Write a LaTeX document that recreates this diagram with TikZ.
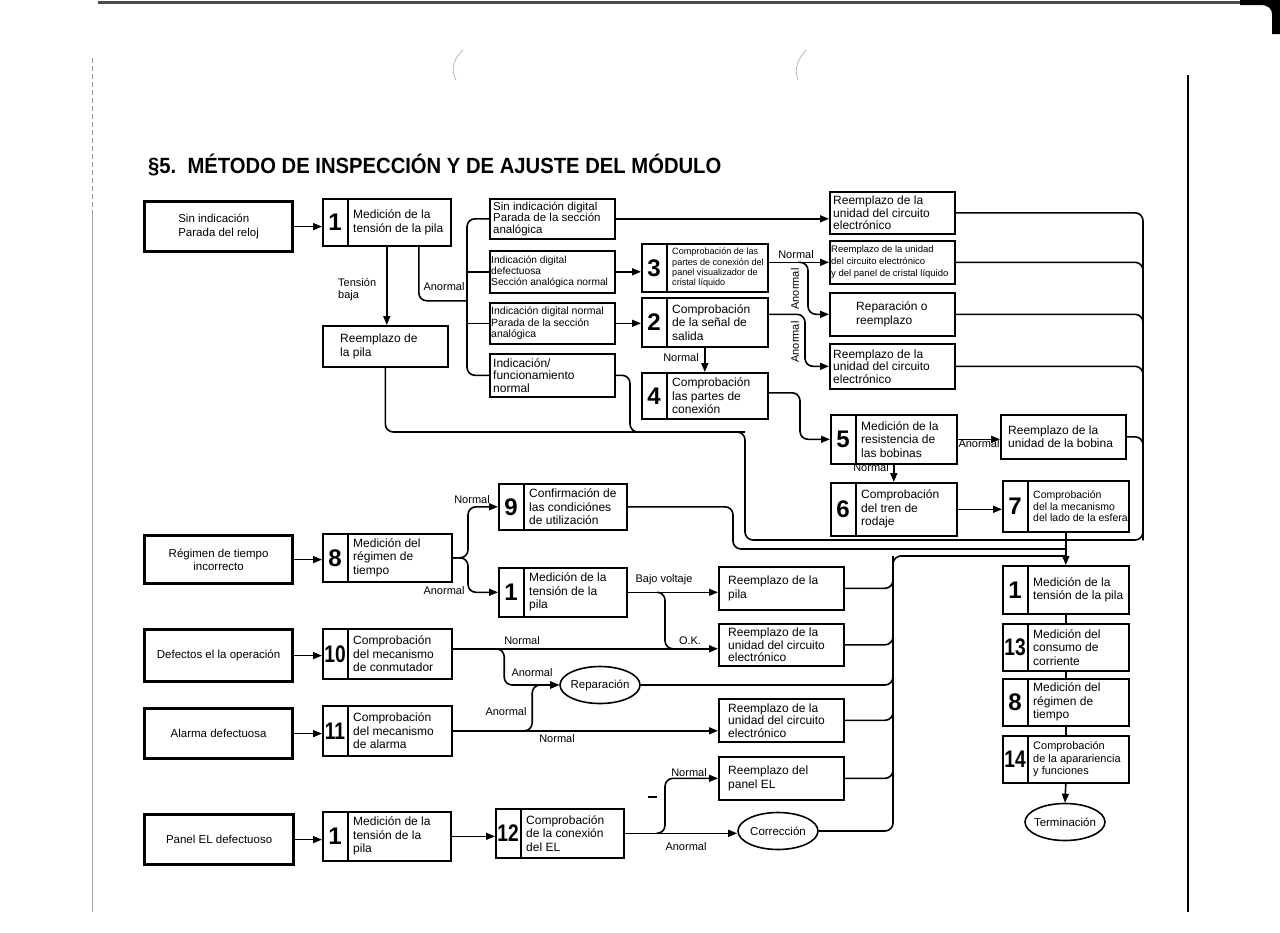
\documentclass[tikz,border=0pt]{standalone}
\usepackage{fontspec}
\setmainfont{Liberation Sans}
\usetikzlibrary{arrows.meta,shapes.geometric}
\newcommand\twod[1]{\scalebox{0.8}[1]{#1}}
\tikzset{
 ln/.style={line width=1.6pt},
 arr/.style={line width=1.6pt,-{Triangle[length=9pt,width=7pt]}},
 rc/.style={rounded corners=8pt},
 bx/.style={draw,line width=1.6pt,inner sep=0pt,anchor=north west},
 inbx/.style={draw,line width=3.2pt,inner sep=0pt,anchor=north west,font=\fontsize{11.5}{13.5}\selectfont},
 txt/.style={inner sep=0pt,align=left,anchor=west},
 numf/.style={inner sep=0pt,font=\fontsize{24}{24}\selectfont\bfseries},
 lbl/.style={inner sep=0pt,font=\fontsize{11}{12.5}\selectfont},
 ell/.style={draw,ellipse,line width=1.6pt,minimum width=80pt,minimum height=37pt,inner sep=0pt,font=\fontsize{11.5}{13}\selectfont},
 f12/.style={font=\fontsize{12}{13.5}\selectfont},
 f12b/.style={font=\fontsize{12}{12.5}\selectfont},
 f115/.style={font=\fontsize{11.5}{11.5}\selectfont},
 f11/.style={font=\fontsize{11}{12.5}\selectfont},
 f105/.style={font=\fontsize{10.5}{11.5}\selectfont},
 f103/.style={font=\fontsize{10.2}{11.3}\selectfont},
 f95/.style={font=\fontsize{9.5}{12}\selectfont},
 f9/.style={font=\fontsize{9.1}{10.2}\selectfont},
}
% numbered box: name, x, y, w, h, number, font style, text
\newcommand\NB[8]{%
 \node[bx,minimum width=#4pt,minimum height=#5pt] (#1) at (#2,#3) {};
 \draw[ln] ([xshift=26pt]#1.north west) -- ([xshift=26pt]#1.south west);
 \node[numf] (#1n) at ([xshift=13pt]#1.west) {#6};
 \node[txt,#7] (#1t) at ([xshift=31pt]#1.west) {#8};
}
% plain box: name, x, y, w, h, text offset, font style, text
\newcommand\TB[8]{%
 \node[bx,minimum width=#4pt,minimum height=#5pt] (#1) at (#2,#3) {};
 \node[txt,#7] (#1t) at ([xshift=#6pt]#1.west) {#8};
}
\begin{document}
\begin{tikzpicture}[x=1pt,y=-1pt]
\fill[white] (0,0) rectangle (1280,932);
\useasboundingbox (0,0) rectangle (1280,932);

% page / scan marks
\draw[line width=3pt,black!70] (98,2) -- (1262,2);
\fill[black] (1240,0) -- (1280,0) -- (1280,34) -- (1272,34) -- (1272,15) .. controls (1272,8) and (1268,5) .. (1260,5) -- (1240,5) -- cycle;
\draw[line width=2.6pt] (1188,75) -- (1188,912);
\draw[black!40,line width=0.6pt,dash pattern=on 5pt off 3pt] (92,58) -- (92,215);
\draw[black!35,line width=0.6pt] (92,215) -- (92,912);
\draw[black!30,line width=0.7pt] (463,50) .. controls (452,60) and (451,72) .. (456,80);
\draw[black!30,line width=0.7pt] (806,50) .. controls (797,60) and (794,70) .. (798,80);

% title
\node[anchor=base west,inner sep=0pt] (title) at (148,173)
 {\scalebox{0.92}[1]{\fontsize{22}{24}\selectfont\bfseries §5.\ \ MÉTODO DE INSPECCIÓN Y DE AJUSTE DEL MÓDULO}};

% input boxes
\node[inbx,minimum width=148pt,minimum height=50pt,align=left] (in1) at (143,200) {Sin indicación\\Parada del reloj};
\node[inbx,minimum width=148pt,minimum height=48pt,align=center] (in2) at (143,534) {Régimen de tiempo\\incorrecto};
\node[inbx,minimum width=148pt,minimum height=52pt] (in3) at (143,628) {Defectos el la operación};
\node[inbx,minimum width=148pt,minimum height=50pt] (in4) at (143,707) {Alarma defectuosa};
\node[inbx,minimum width=149pt,minimum height=50pt] (in5) at (143,813) {Panel EL defectuoso};

% numbered boxes
\NB{b1}{322}{198}{128}{47}{1}{f12}{Medición de la\\tensión de la pila}
\NB{b3}{641}{243}{126}{48}{3}{f9}{Comprobación de las\\partes de conexión del\\panel visualizador de\\cristal líquido}
\NB{b2}{641}{297}{126}{49}{2}{f12}{Comprobación\\de la señal de\\salida}
\NB{b4}{641}{372}{126}{46}{4}{f12}{Comprobación\\las partes de\\conexión}
\NB{b5}{830}{414}{126}{49}{5}{f12}{Medición de la\\resistencia de\\las bobinas}
\NB{b6}{830}{482}{126}{53}{6}{f12}{Comprobación\\del tren de\\rodaje}
\NB{b7}{1002}{480}{126}{51}{7}{f105}{Comprobación\\del la mecanismo\\del lado de la esfera}
\NB{b8}{322}{533}{129}{48}{8}{f12}{Medición del\\régimen de\\tiempo}
\NB{b9}{498}{483}{128}{46}{9}{f12}{Confirmación de\\las condiciónes\\de utilización}
\NB{b1b}{498}{567}{128}{49}{1}{f12}{Medición de la\\tensión de la\\pila}
\NB{b10}{322}{628}{129}{50}{\twod{10}}{f12}{Comprobación\\del mecanismo\\de conmutador}
\NB{b11}{322}{705}{129}{50}{\twod{11}}{f12}{Comprobación\\del mecanismo\\de alarma}
\NB{b1c}{322}{811}{128}{49}{1}{f12}{Medición de la\\tensión de la\\pila}
\NB{b12}{495}{808}{128}{49}{\twod{12}}{f12}{Comprobación\\de la conexión\\del EL}
\NB{f1}{1002}{565}{126}{48}{1}{f12}{Medición de la\\tensión de la pila}
\NB{f13}{1002}{623}{126}{47}{\twod{13}}{f12}{Medición del\\consumo de\\corriente}
\NB{f8}{1002}{678}{126}{47}{8}{f12}{Medición del\\régimen de\\tiempo}
\NB{f14}{1002}{735}{126}{47}{\twod{14}}{f11}{Comprobación\\de la aparariencia\\y funciones}

% plain boxes
\TB{rp1}{322}{325}{125}{41}{18}{f12}{Reemplazo de\\la pila}
\TB{ia}{489}{198}{125}{40}{4}{f115}{Sin indicación digital\\Parada de la sección\\analógica}
\TB{ib}{489}{250}{125}{42}{2}{f103}{Indicación digital\\defectuosa\\Sección analógica normal}
\TB{ic}{489}{302}{125}{41}{2}{f105}{Indicación digital normal\\Parada de la sección\\analógica}
\TB{id}{489}{353}{125}{43}{4}{f12b}{Indicación/\\funcionamiento\\normal}
\TB{r1}{829}{191}{125}{42}{4}{f12b}{Reemplazo de la\\unidad del circuito\\electrónico}
\TB{r2}{829}{240}{125}{43}{2}{f95}{Reemplazo de la unidad\\del circuito electrónico\\y del panel de cristal líquido}
\TB{r3}{829}{292}{125}{43}{27}{f12}{Reparación o\\reemplazo}
\TB{r4}{829}{343}{125}{45}{4}{f12b}{Reemplazo de la\\unidad del circuito\\electrónico}
\TB{rb}{1000}{414}{125}{44}{8}{f12}{Reemplazo de la\\unidad de la bobina}
\TB{rp2}{718}{566}{125}{43}{10}{f12}{Reemplazo de la\\pila}
\TB{rc2}{718}{623}{125}{42}{10}{f12b}{Reemplazo de la\\unidad del circuito\\electrónico}
\TB{rc3}{718}{698}{125}{43}{10}{f12b}{Reemplazo de la\\unidad del circuito\\electrónico}
\TB{rel}{718}{756}{125}{43}{10}{f12}{Reemplazo del\\panel EL}

% ellipses
\node[ell] (rep) at (600,685) {\makebox[0pt]{Reparación}};
\node[ell] (cor) at (778,831) {\makebox[0pt]{Corrección}};
\node[ell] (ter) at (1065,822) {\makebox[0pt]{Terminación}};

% junction coordinates
\coordinate (mA) at (1065,540);
\coordinate (mB) at (1065,549);
\coordinate (mC) at (1065,556);
\coordinate (bR) at (1143,540);
\coordinate (jA) at (745,432);
\coordinate (jA2) at (630,432);
\coordinate (jB) at (733,549);
\coordinate (jC) at (893,556);

% top section connectors
\draw[arr] (in1.east) -- (in1.east -| b1.west);
\draw[arr] (b1.south) -- (b1.south |- rp1.north);
\draw[ln,rc] ([xshift=32pt]b1.south) |- ([xshift=-22pt,yshift=-29pt]ib.west);
\draw[ln,rc] (ia.west) -- ++(-22,0) |- (id.west);
\draw[ln] (ib.west) -- ++(-22,0);
\draw[ln] (ic.west) -- ++(-22,0);
\draw[arr] (ia.east) -- (ia.east -| r1.west);
\draw[arr] (ib.east) -- (ib.east -| b3.west);
\draw[arr] (ic.east) -- (ic.east -| b2.west);
\draw[arr] (b2.south) -- (b4.north);
\draw[arr] (r2.west -| b3.east) -- (r2.west);
\draw[arr,rc] ([xshift=-31pt]r2.west) -| ([xshift=-21pt]r3.west) -- (r3.west);
\draw[arr,rc] ([yshift=8pt]b2.east) -| ([xshift=-24pt]r4.west) -- (r4.west);
\draw[arr,rc] ([yshift=3pt]b4.east) -| ([xshift=-30pt]b5.west) -- (b5.west);
\draw[arr] (b5.east) -- (b5.east -| rb.west);
\draw[arr] (b5.south) -- (b5.south |- b6.north);
\draw[arr] (b6.east) -- (b6.east -| b7.west);

% right bus
\draw[ln,rc] (r1.east) -| (bR) -- (mA);
\draw[ln,rc] (r2.east) -| (bR);
\draw[ln,rc] (r3.east) -| (bR);
\draw[ln,rc] (r4.east) -| (bR);
\draw[ln,rc] (rb.east) -| (bR);

% path from battery replacement and normal indication
\draw[ln,rc] (rp1.south) |- (jA) |- (mA);
\draw[ln,rc] (id.east) -| (jA2) -- (jA);
% path from box 9
\draw[ln,rc] (b9.east) -| (jB) -- (mB);

% lower section connectors
\draw[arr] (in2.east) -- (in2.east -| b8.west);
\draw[arr,rc] (b8.east) -| ([xshift=-30pt]b9.west) -- (b9.west);
\draw[arr,rc] (b8.east) -| ([xshift=-30pt]b1b.west) -- (b1b.west);
\draw[arr] (b1b.east) -- (b1b.east -| rp2.west);
\draw[ln,rc] ([xshift=31pt]b1b.east) -| ([xshift=-53pt,yshift=-4pt]rc2.west) -- ([xshift=-20pt,yshift=-4pt]rc2.west);
\draw[arr] (in3.east) -- (in3.east -| b10.west);
\draw[arr] ([yshift=5pt]b10.east) -- ([yshift=5pt]b10.east -| rc2.west);
\draw[arr,rc] ([xshift=47pt,yshift=5pt]b10.east) -| ([xshift=-55pt]rep.west) -- (rep.west);
\draw[arr] (in4.east) -- (in4.east -| b11.west);
\draw[arr] (b11.east) -- (b11.east -| rc3.west);
\draw[arr,rc] ([xshift=72pt]b11.east) -| ([xshift=-27pt]rep.west) -- (rep.west);
\draw[arr] (in5.east) -- (in5.east -| b1c.west);
\draw[arr] (b1c.east) -- (b1c.east -| b12.west);
\draw[arr] (b12.east) -- (b12.east -| cor.west);
\draw[arr,rc] ([xshift=32pt]b12.east) -| ([xshift=-53pt]rel.west) -- (rel.west);
\draw[ln] (648,797) -- (657,797);

% lower bus
\draw[ln,rc] (cor.east) -| (jC) -- (mC);
\draw[ln,rc] (rel.east) -| (jC);
\draw[ln,rc] (rc3.east) -| (jC);
\draw[ln,rc] (rep.east) -| (jC);
\draw[ln,rc] (rc2.east) -| (jC);
\draw[ln,rc] (rp2.east) -| (jC);

% final column
\draw[arr] (b7.south) -- (f1.north);
\draw[ln] (f1.south) -- (f13.north);
\draw[ln] (f13.south) -- (f8.north);
\draw[ln] (f8.south) -- (f14.north);
\draw[arr] (f14.south) -- (ter.north);

% labels
\node[lbl,align=left,anchor=north west] (lTb) at (338,278) {Tensión\\baja};
\node[lbl] (lA1) at (444,287) {Anormal};
\node[lbl] (lN1) at (681,358) {Normal};
\node[lbl] (lN2) at (796,255) {Normal};
\node[lbl,rotate=90] (lA2) at (795,289) {Anormal};
\node[lbl,rotate=90] (lA3) at (795,342) {Anormal};
\node[lbl] (lA4) at (979,444) {Anormal};
\node[lbl] (lN3) at (871,468) {Normal};
\node[lbl] (lN4) at (472,500) {Normal};
\node[lbl] (lA5) at (444,591) {Anormal};
\node[lbl] (lBV) at (664,580) {Bajo voltaje};
\node[lbl] (lOK) at (690,641) {O.K.};
\node[lbl] (lN5) at (522,641) {Normal};
\node[lbl] (lA6) at (532,673) {Anormal};
\node[lbl] (lA7) at (506,712) {Anormal};
\node[lbl] (lN6) at (557,739) {Normal};
\node[lbl] (lN7) at (689,773) {Normal};
\node[lbl] (lA8) at (686,847) {Anormal};
\end{tikzpicture}
\end{document}
